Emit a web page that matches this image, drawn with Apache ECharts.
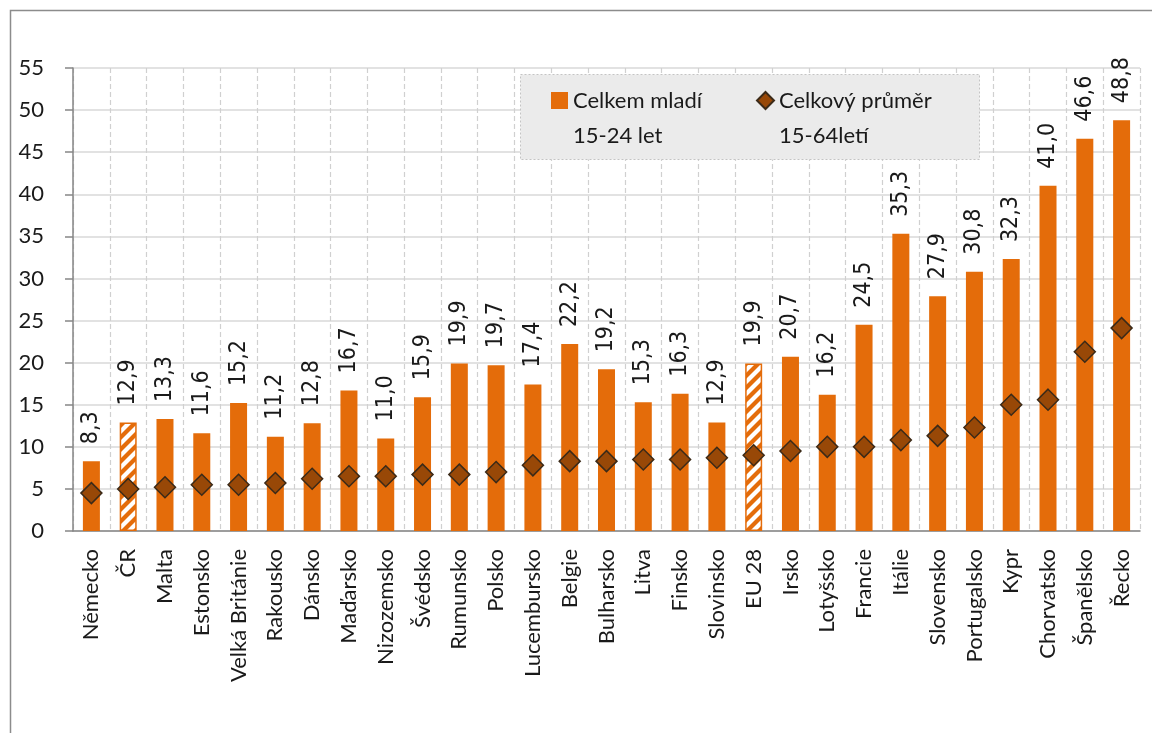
<!DOCTYPE html>
<html>
<head>
<meta charset="utf-8">
<script src="https://cdn.jsdelivr.net/npm/echarts@6/dist/echarts.min.js"></script>
<style>
  html, body { margin: 0; padding: 0; background: #fff; }
  #chart { width: 1152px; height: 733px; }
</style>
</head>
<body>
<div id="chart"></div>
<script>
//== data
var countries = ['Německo', 'ČR', 'Malta', 'Estonsko', 'Velká Británie', 'Rakousko', 'Dánsko', 'Maďarsko',
    'Nizozemsko', 'Švédsko', 'Rumunsko', 'Polsko', 'Lucembursko', 'Belgie', 'Bulharsko', 'Litva', 'Finsko',
    'Slovinsko', 'EU 28', 'Irsko', 'Lotyšsko', 'Francie', 'Itálie', 'Slovensko', 'Portugalsko', 'Kypr',
    'Chorvatsko', 'Španělsko', 'Řecko'];
var youthRate = [8.3, 12.9, 13.3, 11.6, 15.2, 11.2, 12.8, 16.7, 11.0, 15.9, 19.9, 19.7, 17.4, 22.2, 19.2,
    15.3, 16.3, 12.9, 19.9, 20.7, 16.2, 24.5, 35.3, 27.9, 30.8, 32.3, 41.0, 46.6, 48.8];
var totalRate = [4.5, 5.0, 5.2, 5.5, 5.5, 5.7, 6.2, 6.5, 6.5, 6.7, 6.7, 7.0, 7.8, 8.3, 8.3, 8.5, 8.5,
    8.7, 9.0, 9.5, 10.0, 10.0, 10.8, 11.3, 12.3, 15.0, 15.6, 21.3, 24.1];
var hatched = ['ČR', 'EU 28'];
var seriesNames = ['Celkem mladí\n15-24 let', 'Celkový průměr\n15-64letí'];

var orange = '#E46C0A';

//== striped pattern for CZ and EU bars
var makeStripes = function () {
    var c = document.createElement('canvas');
    c.width = 12;
    c.height = 12;
    var ctx = c.getContext('2d');
    ctx.fillStyle = orange;
    ctx.fillRect(0, 0, 12, 12);
    ctx.strokeStyle = '#ffffff';
    ctx.lineWidth = 4.2;
    [0, 12, 24].forEach(function (k) {
        ctx.beginPath();
        ctx.moveTo(k + 2, -2);
        ctx.lineTo(k - 14, 14);
        ctx.stroke();
    });
    return c;
};
var stripes = makeStripes();

var barData = youthRate.map(function (v, i) {
    if (hatched.indexOf(countries[i]) >= 0) {
        return {
            value: v,
            itemStyle: { color: { image: stripes, repeat: 'repeat' }, borderColor: orange, borderWidth: 1.5 }
        };
    }
    return v;
});

var font = 'Lato, "Open Sans", sans-serif';
var LH = 35;

var myChart = echarts.init(document.getElementById('chart'));
myChart.setOption({
    animation: false,
    grid: { left: 73, right: 12, top: 68, bottom: 202 },
    graphic: [
        {
            type: 'rect', z: -10, silent: true,
            shape: { x: 10.5, y: 10.5, width: 1300, height: 900 },
            style: { fill: null, stroke: '#8c8c8c', lineWidth: 1.5 }
        },
        {
            type: 'rect', z: 3, silent: true,
            shape: { x: 520.5, y: 74.5, width: 459, height: 85 },
            style: { fill: '#EBEBEB', stroke: '#c4c4c4', lineWidth: 1, lineDash: [2, 2] }
        }
    ],
    legend: {
        left: 551,
        top: 48,
        padding: 0,
        itemGap: 23,
        itemWidth: 17,
        itemHeight: 17,
        data: [{ name: seriesNames[0], icon: 'rect' }, { name: seriesNames[1], icon: 'diamond' }],
        // leading blank line keeps the icon level with the first text line
        formatter: function (name) {
            return '\n' + name;
        },
        textStyle: {
            fontFamily: font, fontSize: 22, color: '#1a1a1a',
            lineHeight: LH, width: 160
        }
    },
    xAxis: {
        type: 'category',
        data: countries,
        axisLine: { lineStyle: { color: '#868686', width: 1.5 } },
        axisTick: { length: 8, lineStyle: { color: '#868686', width: 1.5 } },
        axisLabel: {
            interval: 0, rotate: 90, margin: 18,
            fontFamily: font, fontSize: 22, color: '#1a1a1a'
        },
        splitLine: { show: true, lineStyle: { color: '#d0d0d0', type: [5, 3], width: 1.2 } }
    },
    yAxis: {
        type: 'value',
        min: 0,
        max: 55,
        interval: 5,
        axisLine: { show: true, lineStyle: { color: '#868686', width: 1.5 } },
        axisTick: { show: true, length: 8, lineStyle: { color: '#868686', width: 1.5 } },
        axisLabel: { margin: 29, fontFamily: font, fontSize: 22, color: '#1a1a1a' },
        splitLine: { lineStyle: { color: '#d9d9d9', width: 1.5 } }
    },
    series: [
        {
            name: seriesNames[0],
            type: 'bar',
            barWidth: 17,
            itemStyle: { color: orange },
            label: {
                show: true,
                position: 'top',
                rotate: 90,
                align: 'left',
                verticalAlign: 'middle',
                distance: 17,
                fontFamily: '"Liberation Sans Narrow", "DejaVu Sans Condensed", sans-serif',
                fontSize: 23,
                color: '#1a1a1a',
                formatter: function (p) {
                    return p.value.toFixed(1).replace('.', ',');
                }
            },
            data: barData
        },
        {
            name: seriesNames[1],
            type: 'scatter',
            symbol: 'diamond',
            symbolSize: 21,
            z: 5,
            itemStyle: { color: '#984807', borderColor: '#3b2a18', borderWidth: 1.5, opacity: 1 },
            data: totalRate
        }
    ]
});
</script>
</body>
</html>
